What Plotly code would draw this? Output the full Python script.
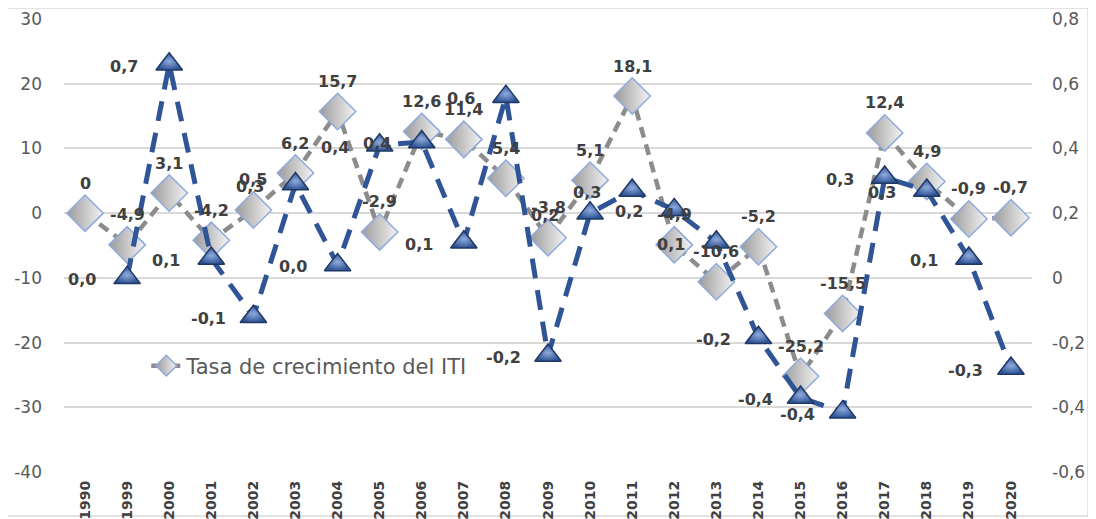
import plotly.graph_objects as go

years = ["1990", "1999", "2000", "2001", "2002", "2003", "2004", "2005", "2006", "2007", "2008",
         "2009", "2010", "2011", "2012", "2013", "2014", "2015", "2016", "2017", "2018", "2019", "2020"]
iti_growth = [0, -4.9, 3.1, -4.2, 0.5, 6.2, 15.7, -2.9, 12.6, 11.4, 5.4, -3.8, 5.1, 18.1,
              -4.9, -10.6, -5.2, -25.2, -15.5, 12.4, 4.9, -0.9, -0.7]
tri_years = years[1:]
tri_values = [0.0, 0.66, 0.06, -0.12, 0.29, 0.04, 0.41, 0.42, 0.11, 0.56, -0.24, 0.20, 0.27,
              0.21, 0.11, -0.185, -0.37, -0.415, 0.31, 0.27, 0.06, -0.28]

left_ticks = [30, 20, 10, 0, -10, -20, -30, -40]
right_ticks = [0.8, 0.6, 0.4, 0.2, 0, -0.2, -0.4, -0.6]


def fmt_comma(s):
    return s.replace(".", ",")


fig = go.Figure()

fig.add_trace(go.Scatter(
    x=years, y=iti_growth, name="Tasa de crecimiento del ITI",
    mode="lines+markers", yaxis="y",
    line=dict(color="#8C8C8C", width=4.5, dash="11px,7px"),
    marker=dict(symbol="diamond", size=28, color="#9A9A9A",
                gradient=dict(type="horizontal", color="#F4F4F4"),
                line=dict(color="#8FAADC", width=1.5)),
    hoverinfo="skip",
))

fig.add_trace(go.Scatter(
    x=tri_years, y=tri_values, name="ITI",
    mode="lines+markers", yaxis="y2", showlegend=False,
    line=dict(color="#2F5597", width=5, dash="20px,12px"),
    marker=dict(symbol="triangle-up", size=23, color="#2F5597",
                gradient=dict(type="radial", color="#8FAADC"),
                line=dict(color="#1F3864", width=1.5)),
    hoverinfo="skip",
))

annotations = []
for x, v in zip(years, iti_growth):
    annotations.append(dict(
        x=years.index(x), y=v, xref="x", yref="y", text=fmt_comma(f"{v:g}"), showarrow=False,
        yshift=30, font=dict(family="DejaVu Sans", size=16, color="#404040", weight="bold")))
for x, v in zip(tri_years, tri_values):
    annotations.append(dict(
        x=years.index(x), y=v, xref="x", yref="y2", text=fmt_comma(f"{v:.1f}"), showarrow=False,
        xshift=-45, yshift=-2, font=dict(family="DejaVu Sans", size=16, color="#404040", weight="bold")))

fig.update_layout(
    width=1088, height=511,
    margin=dict(l=56, r=64, t=11, b=47, autoexpand=False),
    paper_bgcolor="white", plot_bgcolor="white",
    separators=",.",
    showlegend=True,
    legend=dict(x=0.085, y=0.234, xanchor="left", yanchor="middle",
                bgcolor="rgba(0,0,0,0)",
                font=dict(family="DejaVu Sans", size=21, color="#595959")),
    xaxis=dict(type="category", categoryorder="array", categoryarray=years,
               range=[-0.5, len(years) - 0.5], autorange=False, automargin=False,
               tickangle=-90, showgrid=False, zeroline=False, showline=False,
               ticks="", ticklabelstandoff=5,
               tickfont=dict(family="DejaVu Sans", size=14, color="#404040", weight="bold")),
    yaxis=dict(range=[-40, 30], tickvals=left_ticks,
               ticktext=[fmt_comma(f"{v:g}") for v in left_ticks],
               showgrid=True, gridcolor="#D9D9D9",
               gridwidth=1.5, zeroline=False, showline=False, ticks="", automargin=False,
               ticklabelstandoff=21,
               tickfont=dict(family="DejaVu Sans", size=17, color="#595959")),
    yaxis2=dict(range=[-0.6, 0.8], tickvals=right_ticks,
                ticktext=[fmt_comma(f"{v:g}") for v in right_ticks],
                overlaying="y", side="right",
                showgrid=False, zeroline=False, showline=False, ticks="", automargin=False,
                ticklabelstandoff=19,
                tickfont=dict(family="DejaVu Sans", size=17, color="#595959")),
    annotations=annotations,
    shapes=[dict(type="rect", xref="paper", yref="paper",
                 x0=(5 - 64) / 968, x1=(1088 - 64) / 968,
                 y0=(472 - 516) / 453, y1=(472 - 8) / 453,
                 line=dict(color="#D9D9D9", width=1.5), layer="below")],
)

fig.write_html("out.html")
